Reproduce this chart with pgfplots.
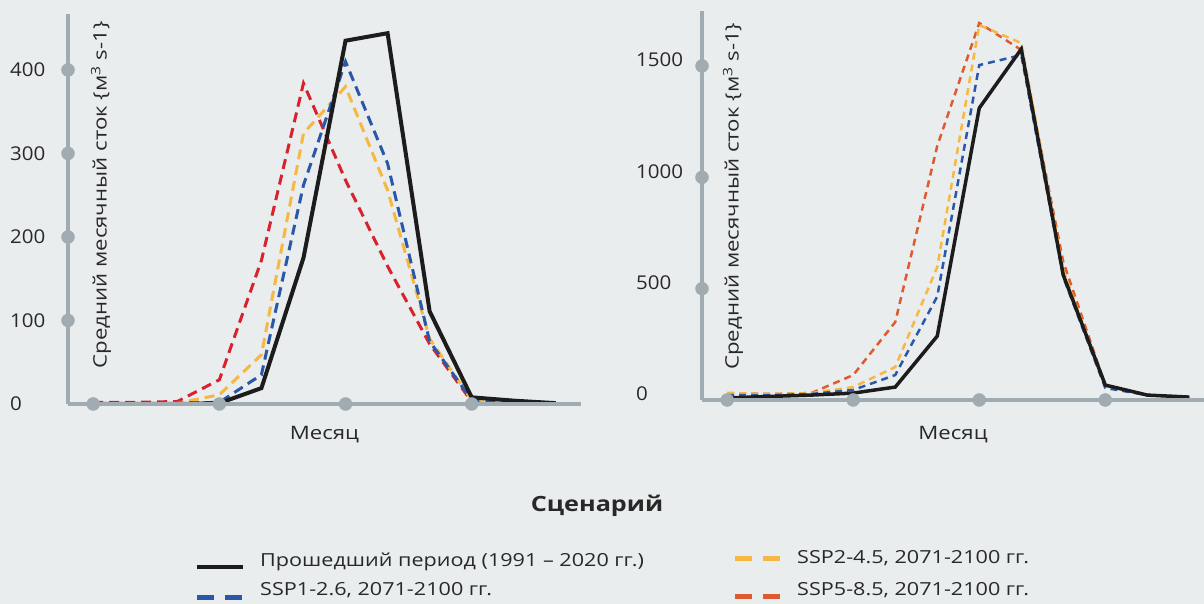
\documentclass[border=0pt]{standalone}
\usepackage{fontspec}
\setmainfont{Open Sans}[FakeStretch=1.2]
\newfontfamily\tickfont{Open Sans}[FakeStretch=1.08]
\usepackage{pgfplots}
\usepackage{pgfplotstable}
\pgfplotsset{compat=1.18}
\definecolor{bg}{RGB}{234,237,238}
\definecolor{axg}{RGB}{160,172,177}
\definecolor{cblack}{RGB}{28,28,28}
\definecolor{cblue}{RGB}{42,88,168}
\definecolor{cyellow}{RGB}{246,184,67}
\definecolor{cred}{RGB}{216,35,47}
\definecolor{corange}{RGB}{222,91,48}
\definecolor{ctext}{RGB}{40,40,40}

\pgfplotstableread{
m black blue yellow red
1 0 0 0 2
2 0 0 0 2
3 0 1 1 3
4 1 2 11 29
5 19 35 59 172
6 175 262 324 384
7 435 410 380 268
8 444 288 256 165
9 111 75 78 72
10 8 5 5 3
11 4 1 1 1
12 1 0 0 0
}\leftdata

\pgfplotstableread{
m black blue yellow orange
1 9 22 31 31
2 16 22 27 27
3 22 27 31 31
4 31 45 58 112
5 58 112 148 350
6 287 465 597 1141
7 1311 1504 1684 1693
8 1576 1549 1603 1572
9 561 552 584 620
10 67 54 63 67
11 22 22 22 22
12 13 13 13 13
}\rightdata

\pgfplotsset{
  myaxis/.style={
    scale only axis,
    axis on top,
    axis x line=bottom, axis y line=left,
    axis line style={-, draw=axg, line width=4pt},
    major tick length=0pt,
    xtick=\empty,
    clip=false,
    /pgf/number format/assume math mode=true,
    /pgf/number format/1000 sep={},
    tick label style={font=\tickfont\fontsize{19}{19}\selectfont, text=ctext},
    label style={font=\fontsize{18.5}{18.5}\selectfont, text=ctext},
    yticklabel style={anchor=west, inner sep=0pt},
  },
}

\begin{document}
\begin{tikzpicture}[x=1pt,y=1pt]
\fill[bg] (0,0) rectangle (1204,604);
\path[use as bounding box] (0,0) rectangle (1204,604);

\begin{axis}[myaxis,
  at={(68pt,200pt)}, anchor=south west,
  width=513pt, height=390pt,
  xmin=0.4, xmax=12.6, ymin=0, ymax=467,
  ytick={0,100,200,300,400},
  yticklabel style={xshift=-58pt},
  xlabel={Месяц},
  xlabel style={at={(axis description cs:0.5,0)}, anchor=center, yshift=-31pt},
  ylabel={Средний месячный сток \{м\textsuperscript{3} s-1\}},
  ylabel style={at={(axis description cs:0.0643,0.536)}, anchor=center},
]
\addplot[cred, line width=3pt, dash pattern=on 10pt off 6pt] table[x=m, y=red] {\leftdata};
\addplot[cyellow, line width=3pt, dash pattern=on 10pt off 6pt] table[x=m, y=yellow] {\leftdata};
\addplot[cblue, line width=3pt, dash pattern=on 10pt off 6pt] table[x=m, y=blue] {\leftdata};
\addplot[cblack, line width=4pt] table[x=m, y=black] {\leftdata};
\addplot[only marks, mark=*, mark size=6.5pt, axg] coordinates {(1,0)(4,0)(7,0)(10,0)(0.4,100)(0.4,200)(0.4,300)(0.4,400)};
\end{axis}

\begin{axis}[myaxis,
  at={(702pt,204pt)}, anchor=south west,
  width=502pt, height=389pt,
  xmin=0.4, xmax=12.35, ymin=0, ymax=1747,
  ytick={0,500,1000,1500},
  yticklabel style={xshift=-66pt, yshift=6pt},
  xlabel={Месяц},
  xlabel style={at={(axis description cs:0.5,0)}, anchor=center, yshift=-35pt},
  ylabel={Средний месячный сток \{м\textsuperscript{3} s-1\}},
  ylabel style={at={(axis description cs:0.0618,0.524)}, anchor=center},
]
\addplot[corange, line width=2.5pt, dash pattern=on 7pt off 5pt] table[x=m, y=orange] {\rightdata};
\addplot[cyellow, line width=2.5pt, dash pattern=on 7pt off 5pt] table[x=m, y=yellow] {\rightdata};
\addplot[cblue, line width=2.5pt, dash pattern=on 7pt off 5pt] table[x=m, y=blue] {\rightdata};
\addplot[cblack, line width=3.5pt] table[x=m, y=black] {\rightdata};
\addplot[only marks, mark=*, mark size=6.5pt, axg] coordinates {(1,0)(4,0)(7,0)(10,0)(0.4,500)(0.4,1000)(0.4,1500)};
\end{axis}

% legend
\node[font=\bfseries\fontsize{21}{21}\selectfont, text=ctext] at (597,98) {Сценарий};
\draw[cblack, line width=4.5pt] (197,37) -- (243,37);
\draw[cblue, line width=5pt, dash pattern=on 17pt off 11pt] (197,6) -- (243,6);
\draw[cyellow, line width=5pt, dash pattern=on 17pt off 11pt] (735,45) -- (781,45);
\draw[corange, line width=5pt, dash pattern=on 17pt off 11pt] (735,7) -- (781,7);
\node[anchor=west, inner sep=0pt, font=\fontsize{18}{18}\selectfont, text=ctext] at (260,42) {Прошедший период (1991 – 2020 гг.)};
\node[anchor=west, inner sep=0pt, font=\fontsize{18}{18}\selectfont, text=ctext] at (260,14) {SSP1-2.6, 2071-2100 гг.};
\node[anchor=west, inner sep=0pt, font=\fontsize{18}{18}\selectfont, text=ctext] at (797,46) {SSP2-4.5, 2071-2100 гг.};
\node[anchor=west, inner sep=0pt, font=\fontsize{18}{18}\selectfont, text=ctext] at (797,14) {SSP5-8.5, 2071-2100 гг.};
\end{tikzpicture}
\end{document}
